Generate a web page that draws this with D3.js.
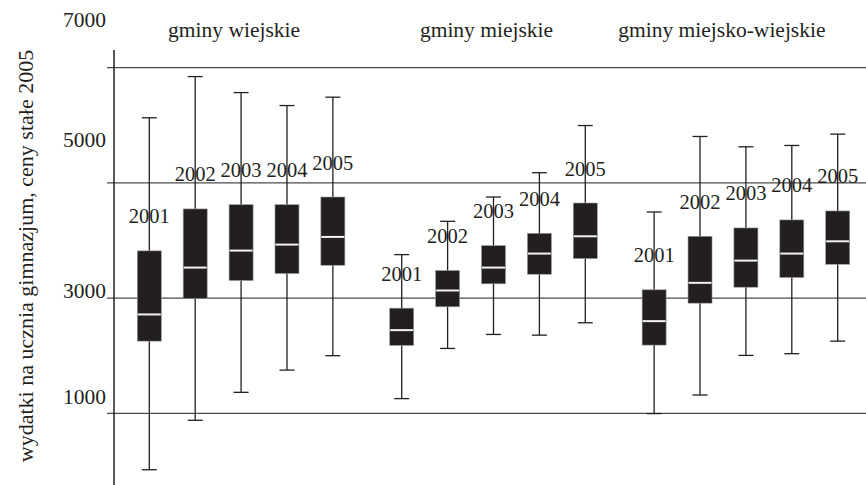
<!DOCTYPE html>
<html>
<head>
<meta charset="utf-8">
<script src="https://cdn.jsdelivr.net/npm/d3@7"></script>
<style>
  html, body { margin: 0; padding: 0; background: #fff; }
  svg { display: block; }
</style>
</head>
<body>
<svg id="chart" width="866" height="485"></svg>
<script>
// ---- data ----
const groups = ["gminy wiejskie", "gminy miejskie", "gminy miejsko-wiejskie"];
const years = ["2001", "2002", "2003", "2004", "2005"];
const yTicks = [1000, 3000, 5000, 7000];
const yTitle = "wydatki na ucznia gimnazjum, ceny stałe 2005";

// per group, per year (2001..2005)
const whiskerHigh = [
  [6130, 6846, 6568, 6343, 6488],
  [3755, 4333, 4755, 5177, 5996],
  [4495, 5806, 5627, 5650, 5847]
];
const q3 = [
  [3820, 4548, 4622, 4622, 4755],
  [2825, 3478, 3911, 4125, 4651],
  [3144, 4073, 4218, 4357, 4513]
];
const median = [
  [2716, 3530, 3825, 3929, 4062],
  [2444, 3132, 3530, 3773, 4073],
  [2600, 3265, 3651, 3773, 3986]
];
const q1 = [
  [2253, 2993, 3305, 3426, 3570],
  [2178, 2849, 3248, 3414, 3686],
  [2184, 2912, 3189, 3357, 3587]
];
const whiskerLow = [
  [20, 879, 1364, 1750, 2000],
  [1255, 2126, 2369, 2357, 2572],
  [995, 1317, 2005, 2035, 2253]
];

// ---- layout ----
const FONT = "'Liberation Serif', 'DejaVu Serif', 'Times New Roman', serif";
const svg = d3.select("#chart")
  .attr("font-family", FONT);
const ink = "#231f20";
const y = d3.scaleLinear().domain([1000, 7000]).range([413.3, 67.7]);
const slot = d3.scaleLinear().domain([0, 15]).range([149.3, 837.7]);
const groupGap = 5.5;
const xOf = (g, i) => slot(g * groupGap + i);
const boxW = 24, capW = 15;

// gridlines
svg.append("g").selectAll("line").data(yTicks).join("line")
  .attr("x1", 107).attr("x2", 866)
  .attr("y1", d => y(d)).attr("y2", d => y(d))
  .attr("stroke", "#4a4a4a").attr("stroke-width", 1.3);

// y axis line
svg.append("line").attr("x1", 114).attr("x2", 114).attr("y1", 50).attr("y2", 485)
  .attr("stroke", ink).attr("stroke-width", 1.5);

// tick labels (placed as in the original, shifted above their lines)
const labelShift = { 1000: 9, 3000: 0.5, 5000: 35.5, 7000: 40.5 };
svg.append("g").selectAll("text").data(yTicks).join("text")
  .attr("x", 106).attr("y", d => y(d) - labelShift[d])
  .attr("text-anchor", "end").attr("font-size", 21.5)
  .attr("font-family", FONT).attr("fill", ink)
  .text(d => d);

// y axis title
svg.append("text")
  .attr("transform", "translate(33,256) rotate(-90)")
  .attr("text-anchor", "middle").attr("font-size", 22)
  .attr("font-family", FONT).attr("fill", ink)
  .text(yTitle);

// group titles
const titleShift = [-7, -7, -24];
svg.append("g").selectAll("text").data(groups).join("text")
  .attr("x", (d, g) => xOf(g, 2) + titleShift[g]).attr("y", 37)
  .attr("text-anchor", "middle").attr("font-size", 21.5)
  .attr("font-family", FONT).attr("fill", ink)
  .text(d => d);

// flatten
const items = [];
groups.forEach((gname, g) => years.forEach((yr, i) => items.push({
  g, i, year: yr,
  lo: whiskerLow[g][i], q1: q1[g][i], med: median[g][i], q3: q3[g][i], hi: whiskerHigh[g][i]
})));

const boxes = svg.append("g").selectAll("g").data(items).join("g");

boxes.append("line")
  .attr("x1", d => xOf(d.g, d.i)).attr("x2", d => xOf(d.g, d.i))
  .attr("y1", d => y(d.hi)).attr("y2", d => y(d.lo))
  .attr("stroke", ink).attr("stroke-width", 1.3);
boxes.append("line")
  .attr("x1", d => xOf(d.g, d.i) - capW / 2).attr("x2", d => xOf(d.g, d.i) + capW / 2)
  .attr("y1", d => y(d.hi)).attr("y2", d => y(d.hi))
  .attr("stroke", ink).attr("stroke-width", 1.3);
boxes.append("line")
  .attr("x1", d => xOf(d.g, d.i) - capW / 2).attr("x2", d => xOf(d.g, d.i) + capW / 2)
  .attr("y1", d => y(d.lo)).attr("y2", d => y(d.lo))
  .attr("stroke", ink).attr("stroke-width", 1.3);
boxes.append("rect")
  .attr("x", d => xOf(d.g, d.i) - boxW / 2).attr("width", boxW)
  .attr("y", d => y(d.q3)).attr("height", d => y(d.q1) - y(d.q3))
  .attr("fill", ink).attr("stroke", "#9a9a9a").attr("stroke-width", 0.6);
boxes.append("line")
  .attr("x1", d => xOf(d.g, d.i) - boxW / 2 + 0.5).attr("x2", d => xOf(d.g, d.i) + boxW / 2 - 0.5)
  .attr("y1", d => y(d.med)).attr("y2", d => y(d.med))
  .attr("stroke", "#f2f2f2").attr("stroke-width", 2);
boxes.append("text")
  .attr("x", d => xOf(d.g, d.i)).attr("y", d => y(d.q3) - 27.5)
  .attr("text-anchor", "middle").attr("font-size", 20.5)
  .attr("font-family", FONT).attr("fill", ink)
  .text(d => d.year);
</script>
</body>
</html>
